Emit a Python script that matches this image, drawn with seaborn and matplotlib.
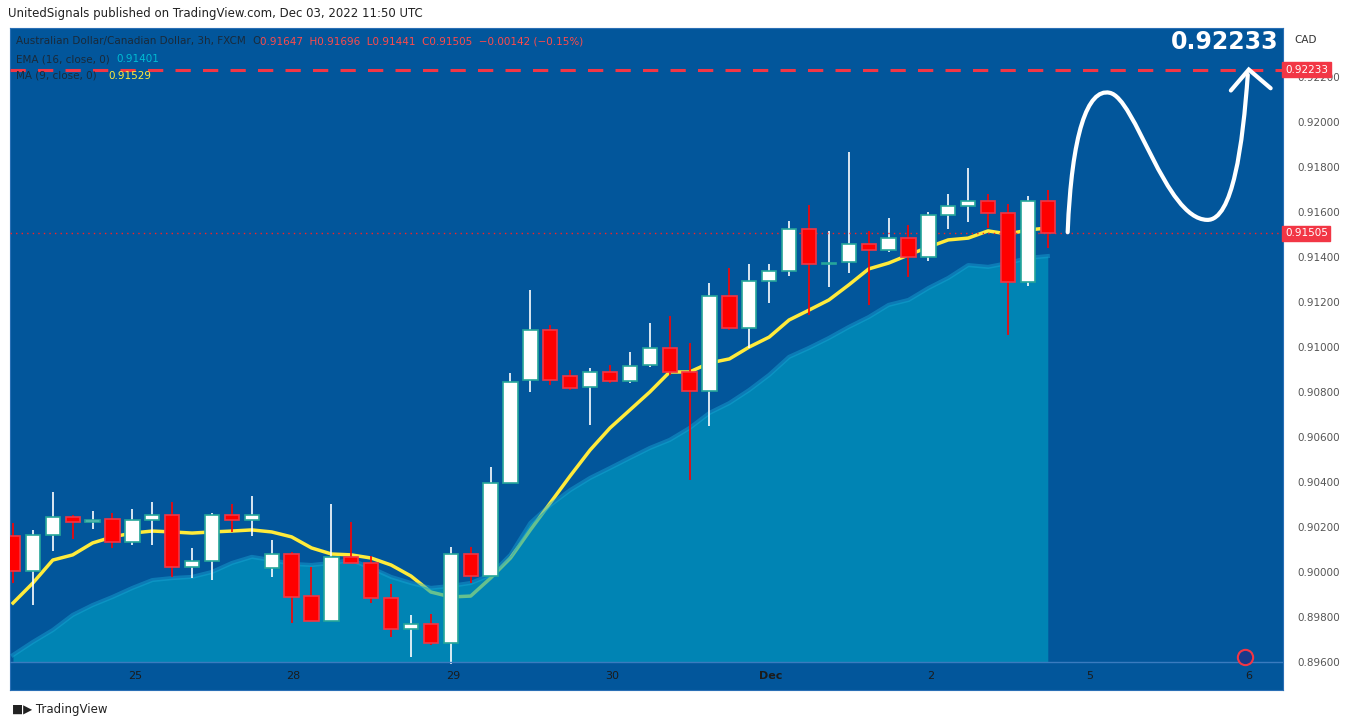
import numpy as np
import pandas as pd
import matplotlib
matplotlib.use("Agg")
import matplotlib.pyplot as plt
import seaborn as sns
from matplotlib.patches import Rectangle, PathPatch
from matplotlib.path import Path

opens = [.90160,.90004,.90164,.90244,.90222,.90236,.90133,.90231,.90253,.90022,.90049,.90253,.90231,.90018,.90080,.89893,.89782,.90067,.90040,.89884,.89747,.89769,.89684,.90080,.89982,.90396,.90853,.91076,.90871,.90822,.90889,.90849,.90920,.90996,.90889,.90804,.91227,.91084,.91293,.91338,.91524,.91369,.91378,.91458,.91431,.91484,.91400,.91587,.91627,.91649,.91596,.91289,.91647]
highs = [.90218,.90187,.90356,.90253,.90271,.90262,.90280,.90311,.90311,.90107,.90262,.90302,.90338,.90142,.90089,.90022,.90302,.90222,.90071,.89947,.89809,.89813,.90111,.90111,.90467,.90884,.91253,.91098,.90898,.90907,.90920,.90978,.91107,.91138,.91018,.91284,.91351,.91369,.91369,.91560,.91631,.91516,.91867,.91516,.91573,.91542,.91600,.91680,.91796,.91680,.91636,.91671,.91696]
lows = [.89951,.89853,.90093,.90147,.90191,.90107,.90120,.90120,.89978,.89973,.89964,.90178,.90160,.89978,.89773,.89782,.89782,.90040,.89862,.89711,.89622,.89676,.89591,.89951,.89982,.90396,.90800,.90831,.90809,.90653,.90840,.90840,.90911,.90876,.90409,.90649,.91076,.90996,.91196,.91316,.91142,.91267,.91329,.91187,.91422,.91311,.91382,.91524,.91556,.91529,.91053,.91271,.91441]
closes = [.90004,.90164,.90244,.90222,.90231,.90133,.90231,.90253,.90022,.90049,.90253,.90231,.90253,.90080,.89889,.89782,.90067,.90040,.89884,.89747,.89769,.89684,.90080,.89982,.90396,.90844,.91076,.90853,.90818,.90889,.90849,.90916,.90996,.90889,.90804,.91227,.91084,.91293,.91338,.91524,.91369,.91373,.91458,.91431,.91484,.91400,.91587,.91627,.91649,.91596,.91289,.91649,.91505]
ma9 = [.89862,.89951,.90053,.90076,.90129,.90156,.90173,.90182,.90178,.90173,.90178,.90182,.90187,.90178,.90156,.90107,.90080,.90076,.90062,.90031,.89982,.89911,.89889,.89893,.89973,.90062,.90187,.90307,.90427,.90542,.90640,.90720,.90800,.90889,.90889,.90929,.90947,.91000,.91044,.91120,.91164,.91209,.91276,.91347,.91373,.91409,.91444,.91476,.91484,.91516,.91502,.91520,.91529]
ema16 = [.89631,.89689,.89742,.89809,.89853,.89889,.89929,.89964,.89973,.89978,.90000,.90040,.90067,.90053,.90036,.90031,.90040,.90053,.90018,.89978,.89951,.89929,.89938,.89951,.89987,.90076,.90218,.90298,.90364,.90418,.90462,.90507,.90551,.90587,.90640,.90707,.90751,.90809,.90876,.90956,.90996,.91040,.91089,.91133,.91187,.91209,.91262,.91307,.91364,.91356,.91373,.91396,.91404]
day_labels = ["25", "28", "29", "30", "Dec", "2", "5", "6"]
day_pos = [6.13, 14.1, 22.1, 30.1, 38.1, 46.1, 54.1, 62.1]
price_ticks = [0.922, 0.920, 0.918, 0.916, 0.914, 0.912, 0.910, 0.908, 0.906, 0.904, 0.902, 0.900, 0.898, 0.896]
target = 0.92233
last_close = 0.91505

BG = "#02569b"
df = pd.DataFrame({"i": np.arange(len(closes)), "ma": ma9, "ema": ema16})

fig = plt.figure(figsize=(13.54, 7.27), dpi=100)
ax = fig.add_axes([10/1354, 37/727, 1273/1354, 662/727])
ax.set_facecolor(BG)
ymin, ymax = 0.894755, 0.924178
ax.set_xlim(-0.15, 63.82)
ax.set_ylim(ymin, ymax)
base = 0.89598

sns.lineplot(data=df, x="i", y="ma", ax=ax, color="#ffeb3b", lw=2.5, zorder=2, legend=False)
ax.fill_between(df["i"], base, df["ema"], color="#00a4c6", alpha=0.6, lw=0, zorder=3)
sns.lineplot(data=df, x="i", y="ema", ax=ax, color="#19a7d6", lw=3, alpha=0.45, zorder=3, legend=False)

for i, (o, h, l, c) in enumerate(zip(opens, highs, lows, closes)):
    up = c >= o
    wick = "white" if up else "#ff0000"
    ax.vlines(i, l, h, color=wick, lw=1.2, zorder=4)
    ax.add_patch(Rectangle((i - 0.36, min(o, c)), 0.72, max(abs(c - o), 0.00003),
                           facecolor="white" if up else "#ff0000",
                           edgecolor="#26a69a" if up else "#f23645", lw=1.2, zorder=5))

ax.axhline(last_close, color="#ff2020", lw=1, ls=(0, (1, 3)), zorder=4)
ax.axhline(target, color="#f23645", lw=2.2, ls=(0, (5, 4)), zorder=6)
ax.axhline(base, color="#3a7bbf", lw=1, zorder=6)

# hand-drawn projection curve
verts = [(53.0, 0.91510), (53.2, 0.91950), (54.0, 0.92150), (55.1, 0.92130),
         (56.4, 0.92110), (57.9, 0.91570), (60.0, 0.91565),
         (61.3, 0.91560), (61.8, 0.91900), (62.05, 0.92210)]
codes = [Path.MOVETO] + [Path.CURVE4] * 9
ax.add_patch(PathPatch(Path(verts, codes), fill=False, ec="white", lw=3, zorder=7, capstyle="round"))
ax.plot([61.2, 62.1, 63.2], [0.92140, 0.92233, 0.92150], color="white", lw=3, zorder=7,
        solid_capstyle="round", solid_joinstyle="miter")
ax.text(60.9, 0.92355, "0.92233", color="white", fontsize=17, fontweight="bold",
        ha="center", va="center", zorder=8)
ax.plot([61.9], [0.8962], marker="o", ms=11, mfc="#1a3a8a", mec="#f23645", mew=1.5, zorder=8)

for lab, p in zip(day_labels, day_pos):
    ax.text(p, 0.89537, lab, ha="center", va="center", fontsize=8, color="#1b1b1b",
            fontweight="bold" if lab == "Dec" else "normal")

ax.set_xticks([])
ax.yaxis.tick_right()
ax.set_yticks(price_ticks)
ax.set_yticklabels([f"{t:.5f}" for t in price_ticks], fontsize=7.5, color="#555555")
ax.tick_params(axis="y", length=0, pad=10)
ax.set_xlabel("")
ax.set_ylabel("")
for s in ax.spines.values():
    s.set_color("#2a6fb5")

for val, col in [(target, "#f23645"), (last_close, "#f23645")]:
    ax.text(1.0015, val, f"{val:.5f}", transform=ax.get_yaxis_transform(), ha="left", va="center",
            fontsize=7.5, color="white", zorder=10,
            bbox=dict(boxstyle="square,pad=0.25", fc=col, ec=col))

fig.text(1294/1354, 1 - 40/727, "CAD", fontsize=7.5, color="#333333", va="center")
fig.text(8/1354, 1 - 14/727, "UnitedSignals published on TradingView.com, Dec 03, 2022 11:50 UTC",
         fontsize=8.5, color="#222222", va="center")
fig.text(16/1354, 1 - 41/727, "Australian Dollar/Canadian Dollar, 3h, FXCM", fontsize=7.5,
         color="#1a2a3a", va="center")
fig.text(252/1354, 1 - 41/727, "O", fontsize=7.5, color="#1a2a3a", va="center")
fig.text(260/1354, 1 - 41/727, "0.91647  H0.91696  L0.91441  C0.91505  \u22120.00142 (\u22120.15%)",
         fontsize=7.5, color="#ff4a4a", va="center")
fig.text(16/1354, 1 - 59/727, "EMA (16, close, 0)", fontsize=7.5, color="#1a2a3a", va="center")
fig.text(116/1354, 1 - 59/727, "0.91401", fontsize=7.5, color="#00bcd4", va="center")
fig.text(16/1354, 1 - 76/727, "MA (9, close, 0)", fontsize=7.5, color="#1a2a3a", va="center")
fig.text(108/1354, 1 - 76/727, "0.91529", fontsize=7.5, color="#ffeb3b", va="center")
fig.text(12/1354, 1 - 709/727, "\u25a0\u25b6 TradingView", fontsize=8.5, color="#222222", va="center")

fig.savefig("out.png", dpi=100)
